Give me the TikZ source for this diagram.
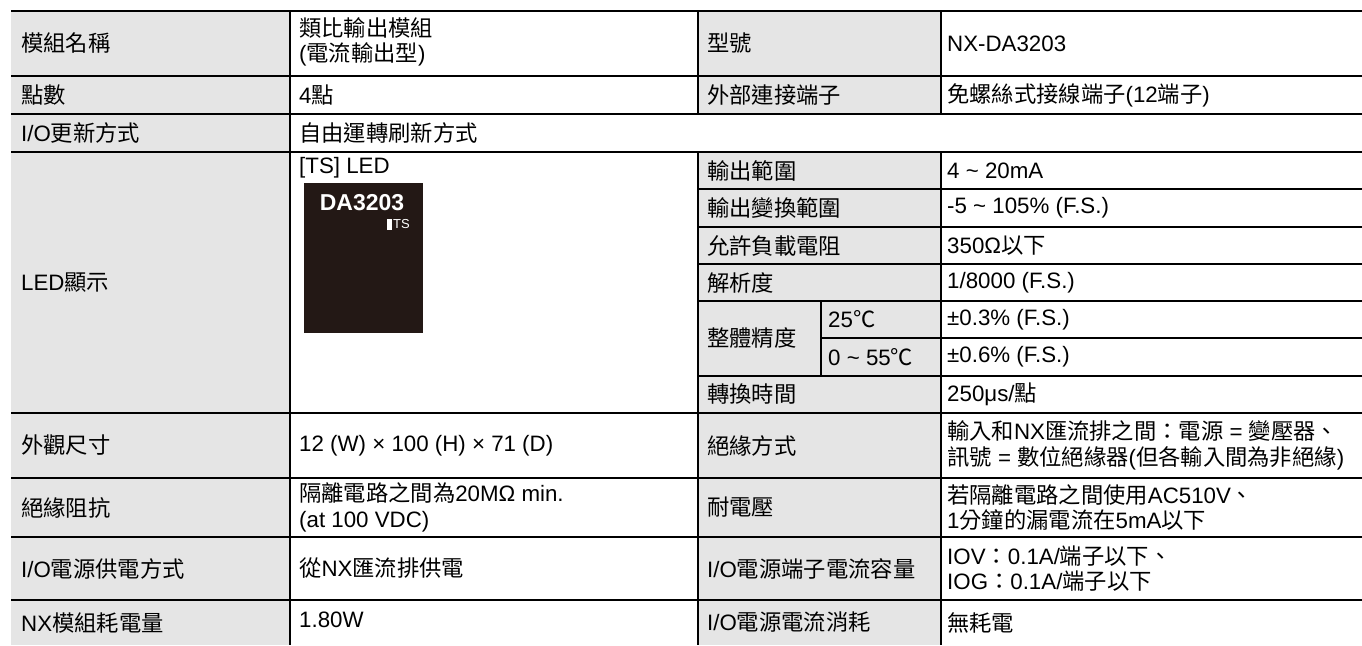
\documentclass[tikz,border=0pt]{standalone}
\usepackage{fontspec}
\setmainfont{Liberation Sans}
\newfontfamily\latinfont{Liberation Sans}
\newfontfamily\cjkfont{Noto Sans CJK TC}
\definecolor{labelgray}{HTML}{E5E5E5}
\definecolor{ledblack}{HTML}{231815}
\XeTeXinterchartokenstate=1
\newXeTeXintercharclass\cjkclass
\newcount\cjkchar
\cjkchar=0
\loop
  \XeTeXcharclass\cjkchar=0
  \advance\cjkchar by 1
\ifnum\cjkchar<"3000 \repeat
\cjkchar="3000
\loop
  \XeTeXcharclass\cjkchar=\cjkclass
  \advance\cjkchar by 1
\ifnum\cjkchar<"A000 \repeat
\cjkchar="FF00
\loop
  \XeTeXcharclass\cjkchar=\cjkclass
  \advance\cjkchar by 1
\ifnum\cjkchar<"FFF0 \repeat
\XeTeXcharclass"2103=\cjkclass
\XeTeXinterchartoks 0 \cjkclass={\cjkfont}
\XeTeXinterchartoks 4095 \cjkclass={\cjkfont}
\XeTeXinterchartoks \cjkclass 0={\latinfont}
\XeTeXinterchartoks \cjkclass 4095={\latinfont}

\begin{document}
\begin{tikzpicture}[x=1pt,y=-1pt,
  hline/.style={black,line width=1.1pt},
  vline/.style={black,line width=1.6pt},
  cell/.style={anchor=west,align=left,font=\fontsize{22.3}{25.5}\selectfont}]
\tikzstyle{every node}+=[inner sep=0pt]
\useasboundingbox (0,0) rectangle (1362,645);
\fill [white] (0,0) rectangle (1362,645);
\fill [labelgray] (11,11) rectangle (290,645);
\fill [labelgray] (698,11) rectangle (941,114);
\fill [labelgray] (698,152) rectangle (941,645);
\draw [hline] (11,76) -- (1362,76);
\draw [hline] (11,114) -- (1362,114);
\draw [hline] (11,152) -- (1362,152);
\draw [hline] (698,189) -- (1362,189);
\draw [hline] (698,227) -- (1362,227);
\draw [hline] (698,264) -- (1362,264);
\draw [hline] (698,301) -- (1362,301);
\draw [hline] (821,338) -- (1362,338);
\draw [hline] (698,376) -- (1362,376);
\draw [hline] (11,413) -- (1362,413);
\draw [hline] (11,478) -- (1362,478);
\draw [hline] (11,537) -- (1362,537);
\draw [hline] (11,600) -- (1362,600);
\draw [vline] (290,11) -- (290,645);
\draw [vline] (698,11) -- (698,114);
\draw [vline] (698,152) -- (698,645);
\draw [vline] (941,11) -- (941,114);
\draw [vline] (941,152) -- (941,645);
\draw [vline] (821,301) -- (821,376);
\draw [black,line width=2.6pt] (11,11) -- (1362,11);
\node [cell] (nameL) at (21,43.5) {模組名稱};
\node [cell] (nameV) at (299,42) {類比輸出模組\\(電流輸出型)};
\node [cell] (typeL) at (707,43.5) {型號};
\node [cell] (typeV) at (947,43.5) {NX-DA3203};
\node [cell] (pointsL) at (21,95) {點數};
\node [cell] (pointsV) at (299,95) {4點};
\node [cell] (termL) at (707,95) {外部連接端子};
\node [cell] (termV) at (947,95) {免螺絲式接線端子(12端子)};
\node [cell] (refreshL) at (21,133) {I/O更新方式};
\node [cell] (refreshV) at (299,133) {自由運轉刷新方式};
\node [cell] (ledL) at (21,282.5) {LED顯示};
\node [cell] (ledV) at (299,168) {[TS] LED};
\fill [ledblack] (304,183) rectangle (423,333);
\node [font=\bfseries\fontsize{23}{23}\selectfont,text=white] (ledtitle) at (362,203) {DA3203};
\fill [white] (387,219) rectangle (392,230);
\node [anchor=west,font=\fontsize{13}{13}\selectfont,text=white] (ledts) at (393,224.5) {TS};
\node [cell] (rangeL) at (707,170.5) {輸出範圍};
\node [cell] (rangeV) at (947,170.5) {4 \textasciitilde{} 20mA};
\node [cell] (convL) at (707,208) {輸出變換範圍};
\node [cell] (convV) at (947,208) {-5 \textasciitilde{} 105\% (F.S.)};
\node [cell] (loadL) at (707,245.5) {允許負載電阻};
\node [cell] (loadV) at (947,245.5) {350Ω以下};
\node [cell] (resL) at (707,282.5) {解析度};
\node [cell] (resV) at (947,282.5) {1/8000 (F.S.)};
\node [cell] (accL) at (707,338.5) {整體精度};
\node [cell] (acc25L) at (828,319.5) {25℃};
\node [cell] (acc25V) at (947,319.5) {±0.3\% (F.S.)};
\node [cell] (acc55L) at (828,357) {0 \textasciitilde{} 55℃};
\node [cell] (acc55V) at (947,357) {±0.6\% (F.S.)};
\node [cell] (timeL) at (707,394.5) {轉換時間};
\node [cell] (timeV) at (947,394.5) {250μs/點};
\node [cell] (sizeL) at (21,445.5) {外觀尺寸};
\node [cell] (sizeV) at (299,445.5) {12 (W) × 100 (H) × 71 (D)};
\node [cell] (isoL) at (707,445.5) {絕緣方式};
\node [cell] (isoV) at (947,445.5) {輸入和NX匯流排之間：電源 = 變壓器、\\訊號 = 數位絕緣器(但各輸入間為非絕緣)};
\node [cell] (insL) at (21,507.5) {絕緣阻抗};
\node [cell] (insV) at (299,507.5) {隔離電路之間為20MΩ min.\\(at 100 VDC)};
\node [cell] (voltL) at (707,507.5) {耐電壓};
\node [cell] (voltV) at (947,507.5) {若隔離電路之間使用AC510V、\\1分鐘的漏電流在5mA以下};
\node [cell] (supplyL) at (21,568.5) {I/O電源供電方式};
\node [cell] (supplyV) at (299,568.5) {從NX匯流排供電};
\node [cell] (capL) at (707,568.5) {I/O電源端子電流容量};
\node [cell] (capV) at (947,568.5) {IOV：0.1A/端子以下、\\IOG：0.1A/端子以下};
\node [cell] (powerL) at (21,622.5) {NX模組耗電量};
\node [cell] (powerV) at (299,620) {1.80W};
\node [cell] (drawL) at (707,622.5) {I/O電源電流消耗};
\node [cell] (drawV) at (947,622.5) {無耗電};
\end{tikzpicture}
\end{document}
